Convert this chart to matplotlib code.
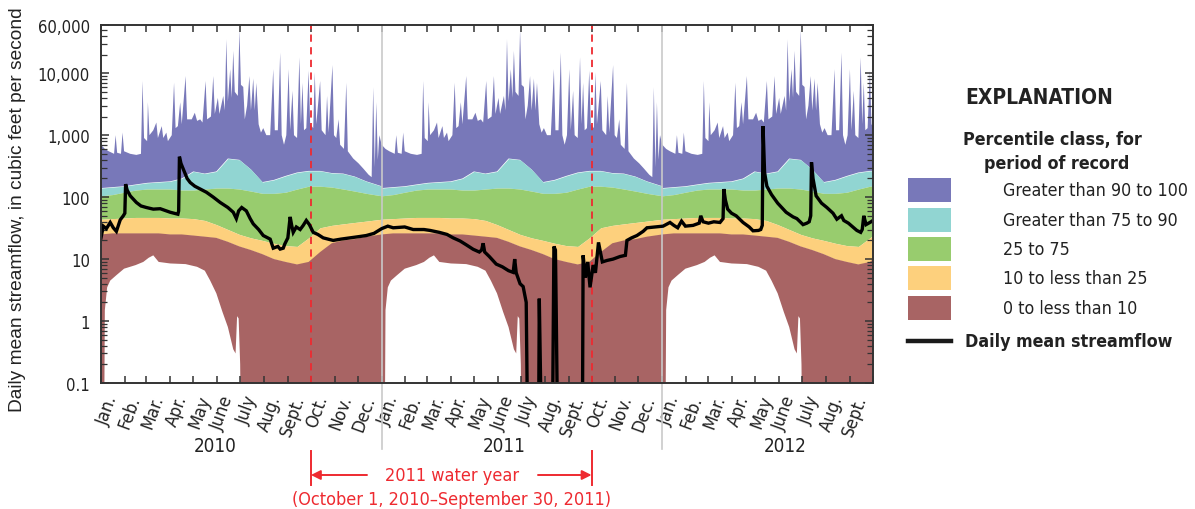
import numpy as np
import matplotlib
matplotlib.use("Agg")
import matplotlib.pyplot as plt
from matplotlib import font_manager as fm
from matplotlib import transforms as mtrans
from matplotlib.patches import Rectangle
from matplotlib.lines import Line2D
from matplotlib.ticker import LogLocator, NullFormatter, FixedLocator

# ---------------- data ----------------
# percentile-class boundaries, by day of year (period of record)
pct_doy = [0, 15, 30, 45, 60, 75, 90, 105, 120, 135, 150, 165, 180, 195, 210,
           225, 240, 255, 270, 285, 300, 315, 330, 345, 365]
p10 = [25, 26, 26, 26, 26, 26, 25, 25, 24, 23, 22, 19, 16, 14, 12,
       10, 9, 8.2, 9, 13, 18, 20, 21, 23, 25]
p25 = [44, 45, 46, 47, 47, 47, 46, 46, 45, 42, 36, 30, 25, 22, 20,
       18, 16.5, 16, 22, 32, 35, 37, 39, 41, 44]
p75 = [105, 110, 120, 130, 135, 135, 135, 130, 130, 135, 140, 140, 135, 125, 115,
       115, 120, 135, 150, 150, 145, 135, 125, 115, 105]
p90 = [140, 145, 150, 160, 170, 175, 180, 200, 260, 240, 260, 420, 400, 280, 175,
       190, 220, 250, 265, 265, 245, 240, 215, 180, 150]

# maximum of record (top of the 90-100 class), by day of year
max_doy = [0, 5, 10, 17, 19, 21, 26, 28, 30, 38, 46, 52, 54, 56, 60, 61, 63, 68, 72, 74,
           79, 81, 85, 87, 92, 95, 97, 100, 103, 105, 110, 112, 118, 122, 125, 129, 132, 136, 138, 143,
           146, 148, 152, 154, 159, 161, 163, 165, 168, 170, 172, 174, 178, 180, 182, 185, 187, 190, 193, 195,
           198, 200, 202, 205, 208, 211, 215, 220, 224, 226, 230, 233, 235, 238, 241, 244, 246, 249, 251, 255,
           258, 260, 262, 264, 267, 270, 272, 276, 278, 280, 285, 287, 292, 294, 296, 301, 303, 306, 309, 311,
           316, 319, 321, 328, 335, 341, 348, 352, 354, 356, 358, 360, 362, 365]
max_cfs = [700, 600, 550, 500, 1000, 520, 500, 1100, 550, 500, 480, 500, 7500, 900, 800, 3400, 1000, 1200, 1600, 900,
           1400, 900, 1100, 800, 1000, 7000, 1300, 1400, 3400, 1500, 9000, 1800, 1800, 2300, 1700, 1800, 1600, 7500, 1800, 2000,
           9000, 2200, 4000, 2200, 4300, 2500, 35000, 3500, 11600, 4000, 23000, 5000, 4300, 50000, 6500, 6000, 1800, 3000, 9000, 2500,
           8200, 2500, 7000, 1500, 1100, 1300, 1000, 1000, 11600, 1200, 1200, 21500, 1000, 700, 1000, 11600, 1200, 5200, 1000, 900,
           18000, 1500, 7000, 1200, 1300, 11000, 1500, 1300, 10300, 1500, 7500, 1200, 1000, 4300, 1100, 13500, 1000, 900, 1800, 700,
           600, 7000, 550, 420, 350, 290, 230, 210, 5900, 300, 3400, 400, 1000, 700]

# minimum of record (bottom of the 0-10 class), by day of year; 0.01 = below the axis
min_doy = [0, 4, 5, 8, 12, 20, 30, 45, 55, 62, 68, 75, 90, 110, 125, 135, 142, 150, 158,
           165, 172, 175, 177, 179, 181, 182, 365]
min_cfs = [0.01, 0.01, 1.5, 3.5, 4.5, 5.5, 7, 8, 9, 10.5, 11.5, 9, 8.5, 8.3, 7.5, 6.5, 4.5, 2.8, 1.4,
           0.8, 0.35, 0.3, 1.2, 1.1, 0.2, 0.01, 0.01]

# daily mean streamflow, days since January 1, 2010; 0.01 = below the axis
flow_day = [0, 3, 7, 12, 16, 20, 25, 29, 31, 32, 34, 38, 46, 52, 59, 68, 77, 90, 100, 101,
            102, 104, 107, 112, 116, 122, 129, 137, 146, 155, 165, 172, 176, 179, 183, 186, 189, 194, 198, 205,
            211, 220, 224, 230, 233, 237, 239, 243, 246, 248, 250, 254, 259, 263, 267, 271, 276, 282, 289, 302,
            312, 324, 335, 345, 355, 363,
            365, 373, 380, 395, 406, 420, 428, 440, 450, 458, 467, 475, 484, 492, 495, 497, 499, 505, 514, 522,
            530, 536, 538, 540, 545, 549, 553, 555, 569, 570, 573, 587, 589, 591, 592, 594, 626, 627, 630, 633,
            636, 640, 643, 647, 652, 658, 666, 675, 682, 684, 690, 697, 705, 710, 720, 731,
            740, 745, 750, 755, 760, 770, 778, 780, 783, 790, 797, 805, 809, 810, 812, 815, 820, 826, 835, 843,
            848, 855, 858, 860, 861, 863, 866, 872, 880, 891, 900, 905, 913, 918, 921, 923, 924, 926, 930, 937,
            944, 952, 957, 963, 966, 972, 983, 988, 990, 992, 995, 1000, 1004]
flow_cfs = [22, 34, 31, 39, 32, 28, 43, 50, 55, 162, 130, 105, 82, 72, 68, 64, 65, 57, 53, 60,
            450, 350, 283, 200, 172, 150, 135, 120, 100, 82, 68, 57, 45, 60, 68, 64, 60, 45, 37, 30,
            24, 21, 15, 16, 14.5, 15, 17.5, 22, 48, 35, 27, 33, 30, 35, 42, 36, 27, 25, 22, 20,
            21, 22, 23, 24, 26, 30,
            31, 34, 32, 33, 30, 30, 29, 27, 25, 22, 19.6, 17, 14.4, 13, 14, 18, 13, 11, 8.3, 7.5,
            6.5, 6.1, 10, 6, 4, 3.6, 2.0, 0.01, 0.01, 2.3, 0.01, 0.01, 16, 14, 1.5, 0.01, 0.01, 11.5, 5, 9,
            3.5, 8, 6, 18.6, 9, 9.5, 10, 11, 11.5, 20, 22, 24, 28, 32, 33, 34,
            39, 35, 32, 41, 34, 35, 38, 50, 40, 38, 40, 39, 45, 135, 90, 64, 55, 50, 39, 33,
            28.6, 29, 30, 35, 1400, 250, 150, 110, 80, 57, 48, 45, 36, 38, 40, 50, 365, 200, 105, 80,
            68, 55, 44, 50, 42, 38, 29, 27, 30, 50, 36, 39, 42]

years = ["2010", "2011", "2012"]
month_labels = ["Jan.", "Feb.", "Mar.", "Apr.", "May", "June", "July", "Aug.",
                "Sept.", "Oct.", "Nov.", "Dec."]
ytick_vals = [0.1, 1, 10, 100, 1000, 10000, 60000]
ytick_labels = ["0.1", "1", "10", "100", "1,000", "10,000", "60,000"]
class_labels = ["Greater than 90 to 100", "Greater than 75 to 90", "25 to 75",
                "10 to less than 25", "0 to less than 10"]
line_label = "Daily mean streamflow"

# ---------------- styling ----------------
C_PURPLE = "#7878B9"
C_CYAN = "#91D5D2"
C_GREEN = "#98CC6E"
C_YELLOW = "#FDD07D"
C_RED = "#A86464"
C_ANN = "#EE2A30"
class_colors = [C_PURPLE, C_CYAN, C_GREEN, C_YELLOW, C_RED]

avail = {f.name for f in fm.fontManager.ttflist}
if "Liberation Sans Narrow" in avail:
    NARROW = dict(family="Liberation Sans Narrow")
else:
    NARROW = dict(family="DejaVu Sans", stretch="condensed")
REG = dict(family="Liberation Sans" if "Liberation Sans" in avail else "DejaVu Sans")

W, H = 1195, 510
fig = plt.figure(figsize=(W / 100, H / 100), dpi=100)
L, R, T, B = 101, 873, 26, 384
ax = fig.add_axes([L / W, 1 - B / H, (R - L) / W, (B - T) / H])


def px(x, y):
    return x / W, 1 - y / H


# calendar: month starts in days since 2010-01-01
t0 = np.datetime64("2010-01-01")
mstarts = np.arange("2010-01", "2012-11", dtype="datetime64[M]").astype("datetime64[D]")
mdays = (mstarts - t0).astype(int)
year_starts = [int((np.datetime64(y + "-01-01") - t0).astype(int)) for y in years]
end_day = int(mdays[-1])

# tile the day-of-year statistics across the three years
def tile(doys, vals):
    xs, ys = [], []
    for ys0 in year_starts:
        xs.extend([d + ys0 for d in doys])
        ys.extend(vals)
    return np.array(xs, float), np.array(ys, float)

xp, y10 = tile(pct_doy, p10)
_, y25 = tile(pct_doy, p25)
_, y75 = tile(pct_doy, p75)
_, y90 = tile(pct_doy, p90)
xmax, ymax = tile(max_doy, max_cfs)
xmin, ymin = tile(min_doy, min_cfs)

ax.set_yscale("log")
ax.fill(np.concatenate([xmax, xp[::-1]]), np.concatenate([ymax, y90[::-1]]),
        color=C_PURPLE, lw=0, zorder=1)
ax.fill_between(xp, y75, y90, color=C_CYAN, lw=0, zorder=1.1)
ax.fill_between(xp, y25, y75, color=C_GREEN, lw=0, zorder=1.2)
ax.fill_between(xp, y10, y25, color=C_YELLOW, lw=0, zorder=1.3)
ax.fill(np.concatenate([xp, xmin[::-1]]), np.concatenate([y10, ymin[::-1]]),
        color=C_RED, lw=0, zorder=1.4)

ax.set_xlim(0, end_day)
ax.set_ylim(0.1, 60000)

# year boundaries (light gray, extending below the axis)
for ys0 in year_starts[1:]:
    ax.axvline(ys0, ymin=-0.185, ymax=1, color="#C9C9C9", lw=1.2, zorder=3, clip_on=False)

# water-year boundaries (red dashed)
oct_days = [int((np.datetime64(y + "-10-01") - t0).astype(int)) for y in years[:2]]
for d in oct_days:
    ax.axvline(d, color=C_ANN, lw=1.3, ls=(0, (4, 3)), zorder=3)

ax.plot(flow_day, flow_cfs, color="black", lw=2.4, zorder=4, solid_joinstyle="miter")

# axes styling
for s in ax.spines.values():
    s.set_color("#333333")
    s.set_linewidth(1.4)
    s.set_zorder(5)

ax.yaxis.set_major_locator(FixedLocator(ytick_vals))
ax.set_yticklabels(ytick_labels, fontsize=12, color="#222222", **NARROW)
ax.yaxis.set_minor_locator(LogLocator(base=10, subs=np.arange(2, 10), numticks=20))
ax.yaxis.set_minor_formatter(NullFormatter())
ax.tick_params(axis="y", which="major", direction="in", length=6, width=1.1,
               left=True, right=True, pad=8, colors="#333333", labelcolor="#222222")
ax.tick_params(axis="y", which="minor", direction="in", length=4, width=0.9,
               left=True, right=True, colors="#333333")

ax.set_xticks(mdays)
ax.set_xticklabels([])
ax.tick_params(axis="x", which="major", direction="in", length=5, width=1.1,
               top=True, bottom=True, colors="#333333")
mids = (mdays[:-1] + mdays[1:]) / 2.0
ax.set_xticks(mids, minor=True)
mlabs = [month_labels[i % 12] for i in range(len(mids))]
ax.set_xticklabels(mlabs, minor=True, rotation=70, ha="right", va="center",
                   rotation_mode="anchor", fontsize=13, color="#222222", **NARROW)
ax.tick_params(axis="x", which="minor", length=0, pad=9)

blend = mtrans.blended_transform_factory(ax.transData, fig.transFigure)
year_x = [215, 504, 785]
for yl, xpix in zip(years, year_x):
    fig.text(xpix / W, 1 - 447 / H, yl, ha="center", va="center", fontsize=13.5,
             color="#222222", **NARROW)

# water-year annotation
fy_top, fy_bot = 1 - 452 / H, 1 - 486 / H
fy_arrow = 1 - 476 / H
for d in oct_days:
    fig.add_artist(Line2D([d, d], [fy_top, fy_bot], transform=blend, color=C_ANN, lw=1.4))
left_tail = (367 - L) / ((R - L) / end_day)
right_tail = (538 - L) / ((R - L) / end_day)
ax.annotate("", xy=(oct_days[0], fy_arrow), xytext=(left_tail, fy_arrow),
            xycoords=blend, textcoords=blend,
            arrowprops=dict(arrowstyle="-|>", color=C_ANN, lw=1.4, mutation_scale=14,
                            shrinkA=0, shrinkB=0))
ax.annotate("", xy=(oct_days[1], fy_arrow), xytext=(right_tail, fy_arrow),
            xycoords=blend, textcoords=blend,
            arrowprops=dict(arrowstyle="-|>", color=C_ANN, lw=1.4, mutation_scale=14,
                            shrinkA=0, shrinkB=0))
fig.text(452 / W, 1 - 476 / H, "2011 water year", ha="center", va="center",
         fontsize=13, color=C_ANN, **NARROW)
fig.text(452 / W, 1 - 500 / H, "(October 1, 2010\u2013September 30, 2011)", ha="center",
         va="center", fontsize=13, color=C_ANN, **NARROW)

# y-axis label
fig.text(18 / W, 1 - 210 / H, "Daily mean streamflow, in cubic feet per second",
         rotation=90, ha="center", va="center", fontsize=13.8, color="#222222", **REG)

# ---------------- explanation (legend) ----------------
fig.text(*px(1039, 98), "EXPLANATION", ha="center", va="center", fontsize=15,
         fontweight="bold", color="#222222", **NARROW)
fig.text(*px(1052, 140), "Percentile class, for", ha="center", va="center", fontsize=12.8,
         fontweight="bold", color="#222222", **NARROW)
fig.text(*px(1057, 164), "period of record", ha="center", va="center", fontsize=12.8,
         fontweight="bold", color="#222222", **NARROW)
box_tops = [179, 209, 238, 267, 297]
for top, col, lab in zip(box_tops, class_colors, class_labels):
    x0, y0 = px(908, top + 24)
    fig.add_artist(Rectangle((x0, y0), 43 / W, 24 / H, transform=fig.transFigure,
                             facecolor=col, edgecolor="none"))
    fig.text(*px(1003, top + 12), lab, ha="left", va="center", fontsize=12.8,
             color="#222222", **NARROW)
fig.add_artist(Line2D([908 / W, 951 / W], [1 - 342 / H] * 2, transform=fig.transFigure,
                      color="#1a1a1a", lw=3.2))
fig.text(*px(965, 342), line_label, ha="left", va="center", fontsize=12.8,
         fontweight="bold", color="#222222", **NARROW)

fig.savefig("out.png", dpi=100, facecolor="white")
